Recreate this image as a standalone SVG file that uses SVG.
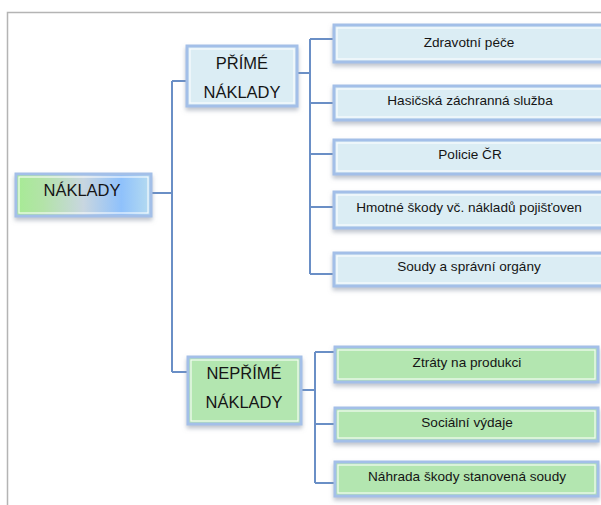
<svg xmlns="http://www.w3.org/2000/svg" width="601" height="505" viewBox="0 0 601 505">
<defs>
<linearGradient id="rootGrad" x1="0" y1="0" x2="1" y2="0">
<stop offset="0" stop-color="#a6eb94"/>
<stop offset="0.2" stop-color="#b3e3a8"/>
<stop offset="0.5" stop-color="#c8d6e0"/>
<stop offset="0.78" stop-color="#8fc1fb"/>
<stop offset="1" stop-color="#b6dcf0"/>
</linearGradient>
<filter id="sh" x="-10%" y="-20%" width="120%" height="150%">
<feDropShadow dx="0" dy="3" stdDeviation="2" flood-color="#8a94a6" flood-opacity="0.55"/>
</filter>
<style>
.frame{fill:none;stroke:#b4b4b4;stroke-width:1.5}
.con{fill:none;stroke:#6a8fc6;stroke-width:2}
.box{stroke:#a3bfe8;stroke-width:3;filter:url(#sh)}
.inner{fill:none;stroke:#ffffff;stroke-width:1.2;opacity:0.85}
.blue{fill:#dbedf4}
.green{fill:#b3e6b0}
.t{font-family:"Liberation Sans",Arial,sans-serif;fill:#151515;text-anchor:middle}
.s{font-size:13.6px}
.h{font-size:16.5px}
</style>
</defs>
<rect x="0" y="0" width="601" height="505" fill="#ffffff"/>
<path class="frame" d="M7.5,505 V12.5 H601"/>
<g id="connectors">
<path class="con" d="M152,193 H172 M172,81 V372 M172,81 H187 M172,372 H188"/>
<path class="con" d="M297,73 H310 M310,39 V274 M310,39 H333 M310,103 H333 M310,154 H333 M310,207 H333 M310,274 H333"/>
<path class="con" d="M301,390 H315 M315,352 V483 M315,352 H334 M315,424 H334 M315,483 H334"/>
</g>
<g id="naklady">
<rect class="box" x="16" y="174" width="135" height="42" fill="url(#rootGrad)"/>
<rect class="inner" x="19" y="177" width="129" height="36"/>
<text class="t h" x="82" y="196">NÁKLADY</text>
</g>
<g id="prime">
<rect class="box blue" x="187" y="46" width="110" height="60"/>
<rect class="inner" x="190" y="49" width="104" height="54"/>
<text class="t h" x="242" y="69">PŘÍMÉ</text>
<text class="t h" x="242" y="98">NÁKLADY</text>
</g>
<g id="neprime">
<rect class="box green" x="188" y="357" width="113" height="67"/>
<rect class="inner" x="191" y="360" width="107" height="61"/>
<text class="t h" x="244" y="379">NEPŘÍMÉ</text>
<text class="t h" x="244" y="408">NÁKLADY</text>
</g>
<g id="zdravotni">
<rect class="box blue" x="334" y="25" width="275" height="37"/>
<rect class="inner" x="337" y="28" width="270" height="31"/>
<text class="t s" x="469" y="47">Zdravotní péče</text>
</g>
<g id="hasicska">
<rect class="box blue" x="334" y="86" width="275" height="34"/>
<rect class="inner" x="337" y="89" width="270" height="28"/>
<text class="t s" x="470" y="105">Hasičská záchranná služba</text>
</g>
<g id="policie">
<rect class="box blue" x="334" y="140" width="275" height="34"/>
<rect class="inner" x="337" y="143" width="270" height="28"/>
<text class="t s" x="470" y="159">Policie ČR</text>
</g>
<g id="hmotne">
<rect class="box blue" x="334" y="192" width="275" height="36"/>
<rect class="inner" x="337" y="195" width="270" height="30"/>
<text class="t s" x="469" y="212">Hmotné škody vč. nákladů pojišťoven</text>
</g>
<g id="soudy">
<rect class="box blue" x="334" y="253" width="275" height="33"/>
<rect class="inner" x="337" y="256" width="270" height="27"/>
<text class="t s" x="469" y="271">Soudy a správní orgány</text>
</g>
<g id="ztraty">
<rect class="box green" x="335" y="347" width="263" height="35"/>
<rect class="inner" x="338" y="350" width="257" height="29"/>
<text class="t s" x="467" y="367">Ztráty na produkci</text>
</g>
<g id="socialni">
<rect class="box green" x="335" y="408" width="263" height="33"/>
<rect class="inner" x="338" y="411" width="257" height="27"/>
<text class="t s" x="467" y="427">Sociální výdaje</text>
</g>
<g id="nahrada">
<rect class="box green" x="335" y="462" width="263" height="34"/>
<rect class="inner" x="338" y="465" width="257" height="28"/>
<text class="t s" x="467" y="481">Náhrada škody stanovená soudy</text>
</g>
</svg>
